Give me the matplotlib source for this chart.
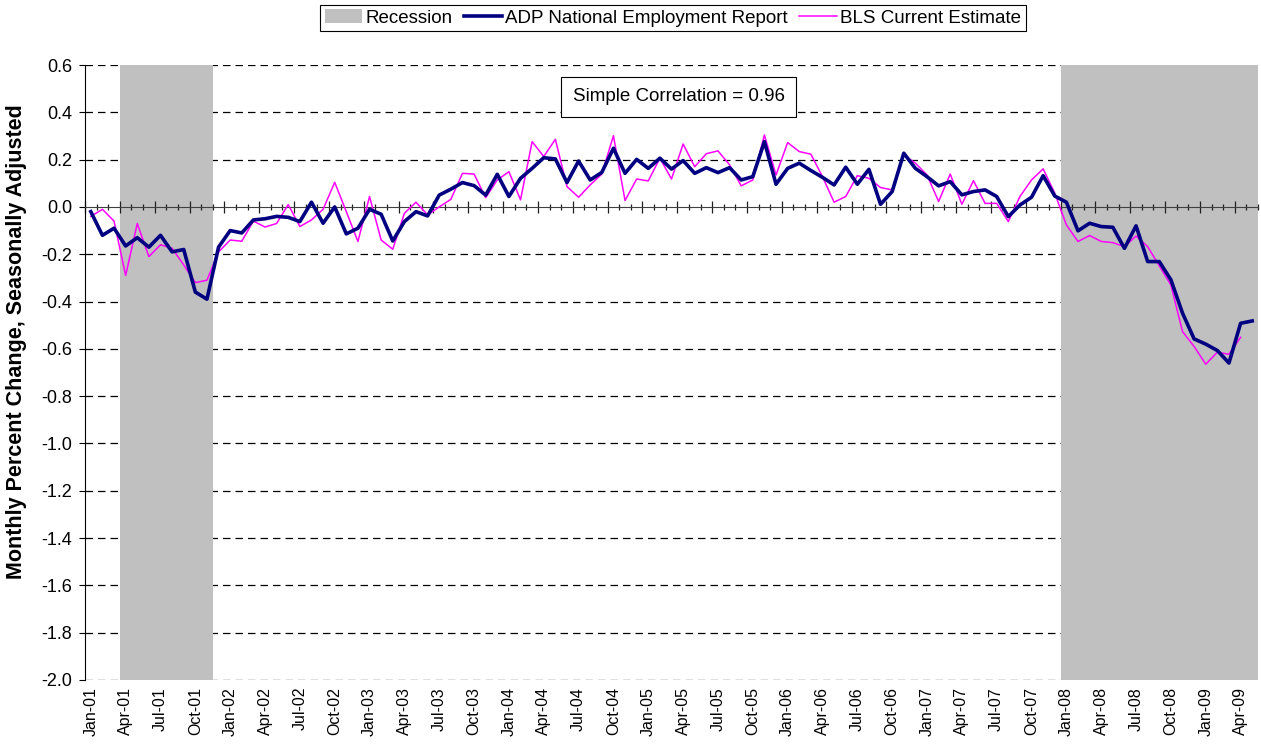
import numpy as np
import pandas as pd
import matplotlib
matplotlib.use("Agg")
import matplotlib.pyplot as plt
from matplotlib.ticker import FormatStrFormatter

plt.rcParams['font.family'] = ['Liberation Sans', 'DejaVu Sans']

# monthly categories, Jan-01 .. May-09
months = pd.date_range("2001-01-01", "2009-05-01", freq="MS")
month_labels = [m.strftime("%b-%y") for m in months]

# monthly percent change, seasonally adjusted
adp = [-0.02, -0.12, -0.09, -0.165, -0.13, -0.17, -0.12, -0.19, -0.18, -0.36,
       -0.39, -0.17, -0.10, -0.11, -0.055, -0.05, -0.04, -0.044, -0.062, 0.02,
       -0.069, 0.0, -0.114, -0.09, -0.01, -0.031, -0.144, -0.062, -0.02, -0.038,
       0.05, 0.075, 0.103, 0.09, 0.05, 0.138, 0.044, 0.121, 0.163, 0.208,
       0.203, 0.103, 0.194, 0.114, 0.146, 0.248, 0.142, 0.201, 0.163, 0.206,
       0.16, 0.196, 0.142, 0.166, 0.145, 0.166, 0.114, 0.128, 0.276, 0.096,
       0.163, 0.185, 0.154, 0.125, 0.093, 0.168, 0.096, 0.159, 0.011, 0.065,
       0.227, 0.163, 0.128, 0.089, 0.107, 0.051, 0.065, 0.072, 0.044, -0.041,
       0.008, 0.041, 0.132, 0.046, 0.02, -0.101, -0.069, -0.083, -0.086, -0.175,
       -0.08, -0.231, -0.231, -0.308, -0.449, -0.558, -0.58, -0.607, -0.66, -0.492,
       -0.482]

bls = [-0.04, -0.01, -0.06, -0.29, -0.07, -0.21, -0.16, -0.175, -0.245, -0.32,
       -0.31, -0.19, -0.14, -0.145, -0.06, -0.085, -0.07, 0.01, -0.083, -0.055,
       -0.01, 0.104, -0.02, -0.146, 0.044, -0.14, -0.179, -0.027, 0.02, -0.034,
       0.0, 0.032, 0.142, 0.139, 0.039, 0.114, 0.149, 0.03, 0.276, 0.213,
       0.286, 0.086, 0.041, 0.093, 0.139, 0.301, 0.027, 0.118, 0.11, 0.206,
       0.118, 0.266, 0.17, 0.225, 0.237, 0.178, 0.089, 0.114, 0.304, 0.135,
       0.272, 0.234, 0.223, 0.128, 0.02, 0.044, 0.132, 0.121, 0.082, 0.072,
       0.22, 0.185, 0.135, 0.023, 0.139, 0.011, 0.111, 0.015, 0.015, -0.062,
       0.044, 0.114, 0.161, 0.058, -0.076, -0.146, -0.121, -0.146, -0.151, -0.168,
       -0.123, -0.168, -0.249, -0.33, -0.527, -0.59, -0.665, -0.614, -0.623, -0.551]

# 1 = recession month (Apr-01..Nov-01, Jan-08 onwards)
recession = [1 if (3 <= i <= 10 or i >= 84) else 0 for i in range(len(months))]

ymin, ymax = -2.0, 0.6

fig = plt.figure(figsize=(12.61, 7.56), dpi=100)
ax = fig.add_axes([85 / 1261, 1 - 680 / 756, (1258 - 85) / 1261, (680 - 65) / 756])

x = np.arange(len(months))

# dashed gridlines
yticks = np.round(np.arange(ymin, ymax + 0.01, 0.2), 1) + 0.0
for yv in yticks:
    if yv != 0:
        ax.axhline(yv, color='black', lw=0.9, ls=(0, (6, 4)), zorder=1)

rec = ax.bar(x, [(ymax - ymin) * r for r in recession], bottom=ymin, width=1.0,
             color='#C0C0C0', label='Recession', zorder=1.5, linewidth=0)
l1, = ax.plot(x, adp, color='#000080', lw=2.6, label='ADP National Employment Report', zorder=4)
l2, = ax.plot(x[:len(bls)], bls, color='#FF00FF', lw=1.1, label='BLS Current Estimate', zorder=3)

ax.set_xlim(-0.5, len(months) - 0.5)
ax.set_ylim(ymin, ymax)
ax.set_yticks(yticks)
ax.yaxis.set_major_formatter(FormatStrFormatter('%.1f'))
ax.tick_params(axis='y', direction='out', length=4, width=0.8, labelsize=13, pad=5)

# category axis crossing at zero, ticks on category boundaries
ax.spines['bottom'].set_position(('data', 0))
ax.spines['bottom'].set_color('#404040')
ax.spines['top'].set_visible(False)
ax.spines['right'].set_visible(False)
ax.set_xticks(np.arange(-0.5, len(months), 3))
ax.set_xticks(np.arange(-0.5, len(months), 1), minor=True)
ax.tick_params(axis='x', which='major', direction='inout', length=9, width=0.9,
               color='#202020', labelbottom=False)
ax.tick_params(axis='x', which='minor', direction='inout', length=4.5, width=0.9,
               color='#202020')

# month labels along the bottom edge
sec = ax.secondary_xaxis(0.0)
sec.set_xticks(x[::3], labels=month_labels[::3])
sec.tick_params(length=0, labelrotation=90, labelsize=11.5, pad=5)
sec.spines['bottom'].set_visible(False)

fig.text(17 / 1261, 1 - 342 / 756, 'Monthly Percent Change, Seasonally Adjusted',
         rotation=90, ha='center', va='center', fontsize=15.5, fontweight='bold')

ax.text(0.506, 0.948, 'Simple Correlation = 0.96', transform=ax.transAxes,
        ha='center', va='center', fontsize=13.5, zorder=6,
        bbox=dict(boxstyle='square,pad=0.6', fc='white', ec='black', lw=0.8))

leg = fig.legend([rec, l1, l2], [rec.get_label(), l1.get_label(), l2.get_label()],
                 loc='center', bbox_to_anchor=(673 / 1261, 1 - 18 / 756),
                 ncol=3, fontsize=13.5, frameon=True, fancybox=False, edgecolor='black',
                 framealpha=1, handlelength=2.0, handletextpad=0.2, columnspacing=0.6,
                 borderpad=0.25)
leg.get_frame().set_linewidth(0.8)

fig.savefig('out.png', dpi=100)
